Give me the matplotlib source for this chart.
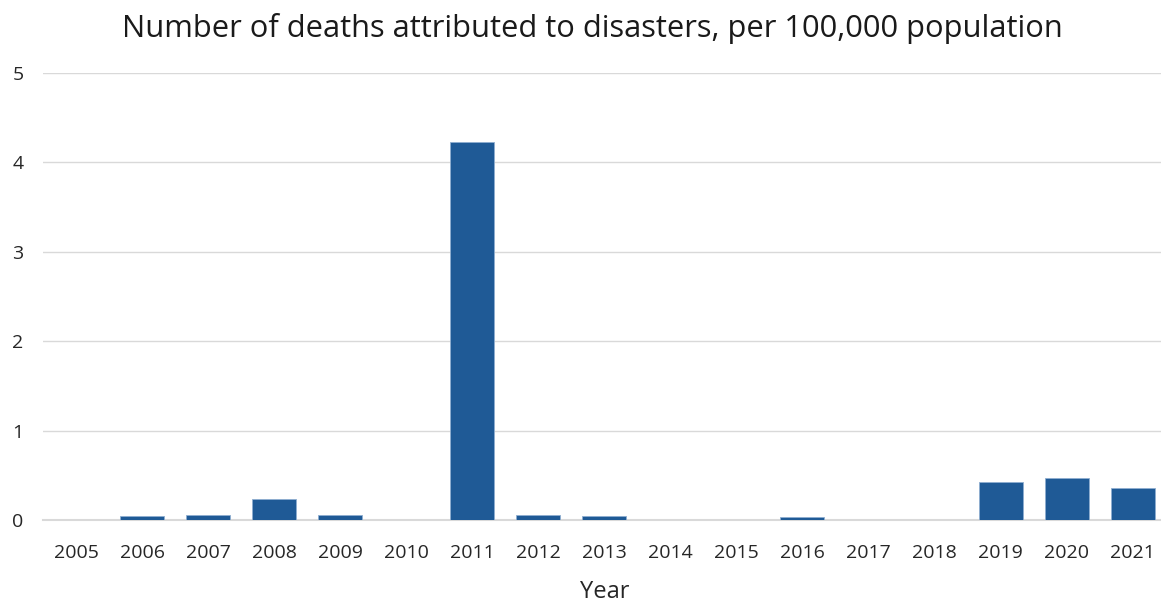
import matplotlib
matplotlib.use("Agg")
import matplotlib.pyplot as plt

years = ["2005", "2006", "2007", "2008", "2009", "2010", "2011", "2012", "2013",
         "2014", "2015", "2016", "2017", "2018", "2019", "2020", "2021"]
deaths_per_100k = [0.0, 0.045, 0.06, 0.24, 0.06, 0.0, 4.23, 0.056, 0.045,
                   0.0, 0.0, 0.03, 0.0, 0.0, 0.43, 0.47, 0.355]
y_ticks = [0, 1, 2, 3, 4, 5]

plt.rcParams['font.family'] = ['Open Sans', 'DejaVu Sans']

fig = plt.figure(figsize=(11.61, 6.04), dpi=100)
ax = fig.add_axes([0.037, 0.139, 0.967, 0.740])

x = list(range(len(years)))
ax.bar(x, deaths_per_100k, width=0.667, color="#1F5A96", edgecolor="#8FAED0",
       linewidth=0.6, zorder=3)

ax.set_xlim(-0.5, len(years) - 0.5)
ax.set_ylim(0, 5)
ax.set_yticks(y_ticks)
ax.set_yticklabels([str(v) for v in y_ticks])
ax.set_xticks(x)
ax.set_xticklabels(years)

ax.grid(axis="y", color="#D9D9D9", linewidth=1.0, zorder=0)
for s in ["top", "right", "left"]:
    ax.spines[s].set_visible(False)
ax.spines["bottom"].set_color("#D9D9D9")
ax.spines["bottom"].set_linewidth(1.5)
ax.tick_params(axis="both", length=0, labelsize=14, colors="#262626")
ax.tick_params(axis="y", pad=14)
ax.tick_params(axis="x", pad=17)

ax.set_xlabel("Year", fontsize=17, color="#262626", labelpad=13)
fig.suptitle("Number of deaths attributed to disasters, per 100,000 population",
             fontsize=22.2, color="#1A1A1A", x=0.51, y=0.978)

fig.savefig("out.png", dpi=100)
